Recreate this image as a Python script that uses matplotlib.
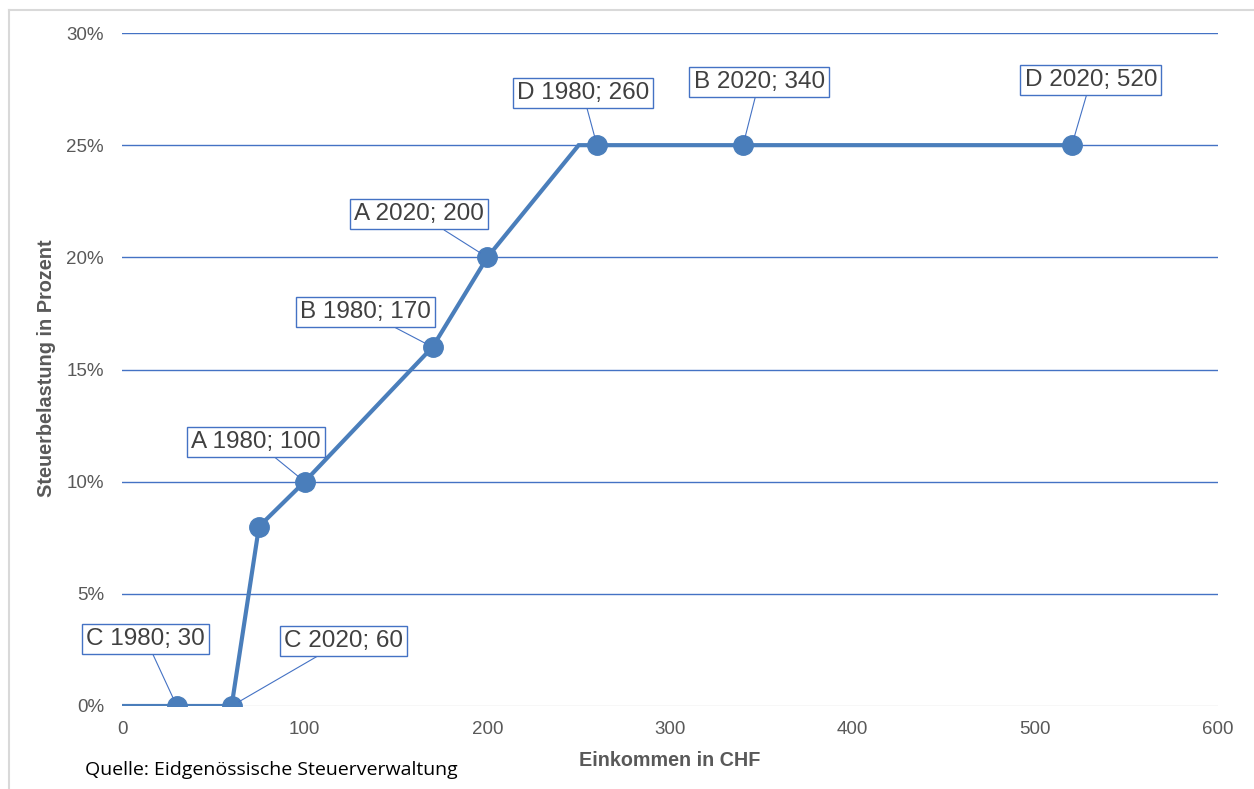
import matplotlib
matplotlib.use("Agg")
import matplotlib.pyplot as plt
from matplotlib.lines import Line2D
from matplotlib.ticker import FuncFormatter

# Tax curve: income (CHF) vs. tax burden (%)
income = [0, 30, 60, 75, 100, 170, 200, 250, 260, 340, 520]
burden = [0, 0, 0, 8, 10, 16, 20, 25, 25, 25, 25]

# Points marked on the curve
marker_income = [30, 60, 75, 100, 170, 200, 260, 340, 520]
marker_burden = [0, 0, 8, 10, 16, 20, 25, 25, 25]

# Labelled households
label_names = ["C 1980", "C 2020", "A 1980", "B 1980", "A 2020", "D 1980", "B 2020", "D 2020"]
label_income = [30, 60, 100, 170, 200, 260, 340, 520]
label_burden = [0, 0, 10, 16, 20, 25, 25, 25]
# label box offsets from the point, in pixels
label_dx = [-31, 112, -49, -67, -68, -14, 16, 19]
label_dy = [67, 65, 40, 35, 43, 52, 63, 65]

x_ticks = [0, 100, 200, 300, 400, 500, 600]
y_ticks = [0, 5, 10, 15, 20, 25, 30]

LINE = "#4a7ebb"
GRID = "#4472c4"
TXT = "#595959"

W, H = 1254, 789
fig = plt.figure(figsize=(W / 100, H / 100), dpi=100)
ax = fig.add_axes([122 / W, 1 - 706 / H, (1218 - 122) / W, (706 - 33) / H])

for y in y_ticks:
    if y == 0:
        ax.axhline(y, color="#d9d9d9", lw=1, zorder=1)
    else:
        ax.axhline(y, color=GRID, lw=1, zorder=1)

ax.plot(income, burden, color=LINE, lw=3, solid_joinstyle="miter", zorder=3)
ax.plot(marker_income, marker_burden, "o", color=LINE, ms=14, zorder=4)

ax.set_xlim(0, 600)
ax.set_ylim(0, 30)
ax.set_xticks(x_ticks)
ax.set_yticks(y_ticks)
ax.yaxis.set_major_formatter(FuncFormatter(lambda v, p: f"{int(v)}%"))
ax.tick_params(length=0, labelsize=13.5, labelcolor=TXT)
ax.tick_params(axis="y", pad=13)
ax.tick_params(axis="x", pad=11)
for lab in ax.get_xticklabels() + ax.get_yticklabels():
    lab.set_fontfamily("Liberation Sans")
for s in ax.spines.values():
    s.set_visible(False)

for name, xv, yv, dx, dy in zip(label_names, label_income, label_burden, label_dx, label_dy):
    ax.annotate(
        f"{name}; {xv}", xy=(xv, yv), xytext=(dx, dy), textcoords="offset pixels",
        ha="center", va="center", fontsize=17.5, color="#404040", family="Liberation Sans",
        bbox=dict(boxstyle="square,pad=0.17", fc="white", ec=GRID, lw=1),
        arrowprops=dict(arrowstyle="-", color=GRID, lw=0.8, shrinkA=0, shrinkB=6),
        zorder=5,
    )

fig.text(47 / W, 1 - 368 / H, "Steuerbelastung in Prozent", rotation=90, ha="center", va="center",
         fontsize=14.3, fontweight="bold", color=TXT, family="Liberation Sans")
fig.text(670 / W, 1 - 760 / H, "Einkommen in CHF", ha="center", va="center",
         fontsize=14.2, fontweight="bold", color=TXT, family="Liberation Sans")
fig.text(85 / W, 1 - 770 / H, "Quelle: Eidgenössische Steuerverwaltung", ha="left", va="center",
         fontsize=14, color="black", family="Open Sans")

# light frame around the chart area
fig.add_artist(Line2D([9 / W, 9 / W], [0, 1 - 10 / H], color="#d9d9d9", lw=1.5))
fig.add_artist(Line2D([9 / W, 1], [1 - 10 / H, 1 - 10 / H], color="#d9d9d9", lw=1.5))

fig.savefig("out.png", dpi=100)
